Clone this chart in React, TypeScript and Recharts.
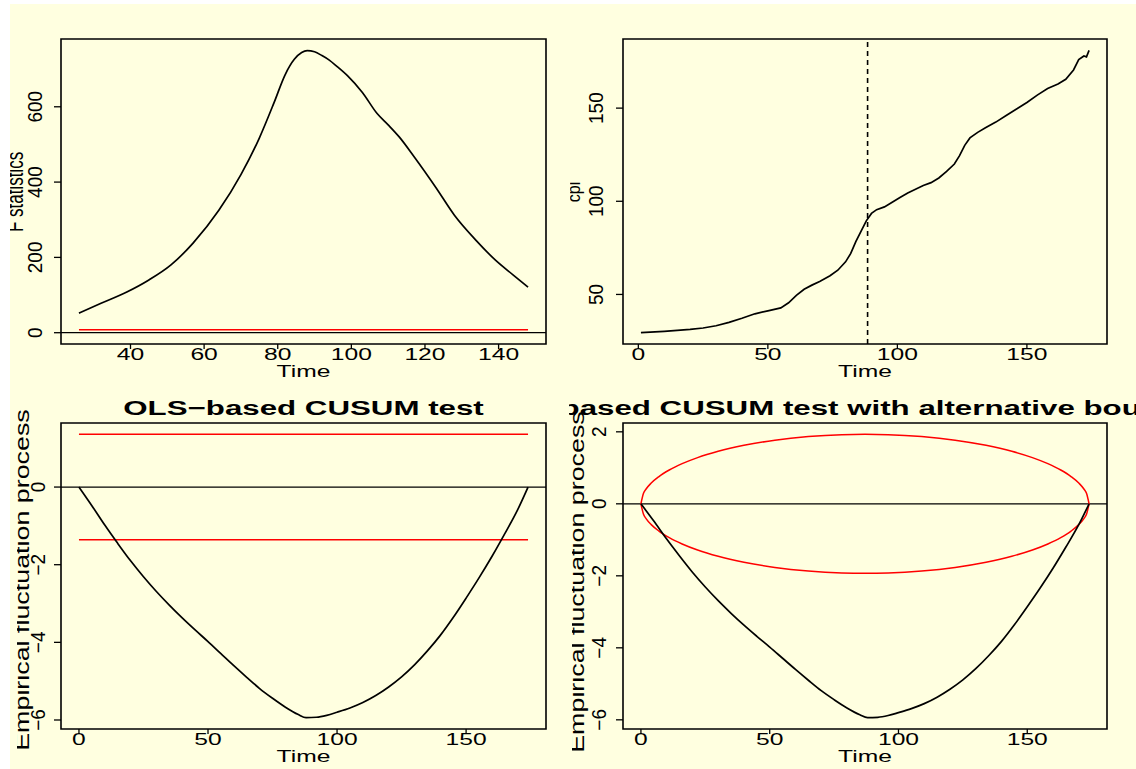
import React from 'react';
import { LineChart, Line, XAxis, YAxis, ReferenceLine, ReferenceArea } from 'recharts';

// ---------- data ----------
// Panel 1: F statistics
const fTime = [26, 32, 39, 45, 51, 57, 64, 70, 75, 79, 82, 84.5, 86.5, 88, 90, 92, 94, 96, 99, 103, 107, 110, 113, 117, 123, 128, 134, 139, 144, 148];
const fStat = [52, 78, 108, 140, 180, 238, 325, 420, 517, 611, 685, 726, 744, 749, 746, 736, 724, 708, 682, 638, 582, 552, 520, 468, 385, 312, 244, 194, 153, 121];
const fBoundTime = [26, 148];
const fBoundValue = [8, 8];
const fTicksX = [40, 60, 80, 100, 120, 140];
const fTicksY = [0, 200, 400, 600];

// Panel 2: cpi
const cpiTime = [1, 10, 20, 25, 30, 35, 40, 45, 50, 55, 58, 61, 64, 67, 70, 74, 77, 80, 82, 84, 86, 88, 90, 92, 95, 98, 101, 104, 107, 110, 113, 116, 119, 122, 124, 126, 128, 131, 134, 138, 142, 146, 150, 154, 158, 162, 165, 168, 170, 172, 173, 174];
const cpiValue = [29.5, 30.2, 31.2, 32.0, 33.2, 35.0, 37.2, 39.6, 41.2, 42.8, 45.5, 49.5, 52.8, 55.0, 57.0, 60.0, 63.0, 67.5, 72.0, 78.5, 84.0, 89.5, 93.5, 95.5, 97.0, 99.5, 102.0, 104.5, 106.5, 108.5, 110.0, 112.5, 116.0, 120.0, 124.5, 130.0, 134.0, 137.0, 139.5, 142.5, 146.0, 149.5, 153.0, 157.0, 160.5, 163.0, 165.5, 170.5, 176.0, 178.0, 177.5, 181.0];
const cpiBreak = 88.5;
const cpiTicksX = [0, 50, 100, 150];
const cpiTicksY = [50, 100, 150];

// Panels 3 & 4: empirical fluctuation process (OLS-CUSUM)
const cusumTime = [0, 5, 10, 15, 20, 25, 30, 35, 40, 45, 50, 55, 60, 65, 70, 75, 80, 85, 88, 92, 96, 100, 105, 110, 115, 120, 125, 130, 135, 140, 145, 150, 155, 160, 165, 170, 174];
const cusumValue = [0, -0.48, -0.98, -1.45, -1.9, -2.31, -2.69, -3.04, -3.37, -3.68, -3.98, -4.29, -4.6, -4.9, -5.19, -5.44, -5.67, -5.86, -5.94, -5.93, -5.88, -5.8, -5.69, -5.55, -5.37, -5.15, -4.89, -4.58, -4.22, -3.82, -3.36, -2.86, -2.34, -1.79, -1.2, -0.58, 0];
const olsBoundTime = [0, 174];
const olsBoundUpper = [1.358, 1.358];
const olsBoundLower = [-1.358, -1.358];
const altBoundTime = [0, 1, 2, 4, 7, 11, 16, 22, 30, 40, 52, 65, 78, 87, 96, 109, 122, 134, 144, 152, 158, 163, 167, 170, 172, 173, 174];
const altBoundUpper = [0, 0.292, 0.411, 0.578, 0.758, 0.939, 1.115, 1.283, 1.458, 1.624, 1.767, 1.867, 1.92, 1.93, 1.92, 1.867, 1.767, 1.624, 1.458, 1.283, 1.115, 0.939, 0.758, 0.578, 0.411, 0.292, 0];
const cusumTicksX = [0, 50, 100, 150];
const olsTicksY = [-6, -4, -2, 0];
const altTicksY = [-6, -4, -2, 0, 2];

const rows = (ts: number[], vs: number[]) => ts.map((t, i) => ({ t, v: vs[i] }));
const fRows = rows(fTime, fStat);
const fBoundRows = rows(fBoundTime, fBoundValue);
const cpiRows = rows(cpiTime, cpiValue);
const cusumRows = rows(cusumTime, cusumValue);
const olsUpRows = rows(olsBoundTime, olsBoundUpper);
const olsLoRows = rows(olsBoundTime, olsBoundLower);
const altUpRows = rows(altBoundTime, altBoundUpper);
const altLoRows = rows(altBoundTime, altBoundUpper.map((v) => -v));

// ---------- styling ----------
const FONT = '"Liberation Sans", Arial, Helvetica, sans-serif';
const SX = 1.45;
const fmt = (v: number) => String(v).replace('-', '\u2212');

const XTick = (props: any) => {
  const { x, y, payload } = props;
  return (
    <text transform={`translate(${x},${y + 11}) scale(${SX},1)`} textAnchor="middle" fontSize={17} fontFamily={FONT} fill="#000">
      {fmt(payload.value)}
    </text>
  );
};

const makeYTick = (gap: number) => (props: any) => {
  const { x, y, payload } = props;
  return (
    <text transform={`translate(${x - gap},${y}) rotate(-90) scale(1,1.05)`} textAnchor="middle" fontSize={19} fontFamily={FONT} fill="#000">
      {fmt(payload.value)}
    </text>
  );
};

const XTitle = (props: any) => {
  const { px, py } = props;
  return (
    <text transform={`translate(${px},${py}) scale(${SX},1)`} textAnchor="middle" fontSize={17} fontFamily={FONT} fill="#000">
      Time
    </text>
  );
};

const YTitle = (props: any) => {
  const { id, text, size, thick, len, bx, cy, clipX, title, tx, ty } = props;
  return (
    <g>
      <defs>
        <clipPath id={id}>
          <rect x={clipX} y={-1000} width={3000} height={3000} />
        </clipPath>
      </defs>
      <g clipPath={`url(#${id})`}>
        <text transform={`translate(${bx},${cy}) rotate(-90) scale(${len},${thick})`} textAnchor="middle" fontSize={size} fontFamily={FONT} fill="#000">
          {text}
        </text>
      </g>
      {title ? (
        <text transform={`translate(${tx},${ty}) scale(1.49,1)`} textAnchor="middle" fontSize={21} fontWeight="bold" fontFamily={FONT} fill="#000">
          {title}
        </text>
      ) : null}
    </g>
  );
};

type PanelProps = {
  id: string;
  clip: number[]; // page left, top, right, bottom
  box: number[]; // page left, top, right, bottom
  xDomain: number[];
  yDomain: number[];
  xTicks: number[];
  yTicks: number[];
  tickGap: number;
  yLabel: { text: string; size: number; thick: number; len: number; baseX: number; centerY: number; clipX: number };
  title?: string;
  children?: React.ReactNode;
};

function Panel(p: PanelProps) {
  const [cl, ct, cr, cb] = p.clip;
  const [bl, bt, br, bb] = p.box;
  const W = cr - cl;
  const H = cb - ct;
  const yl = p.yLabel;
  return (
    <div style={{ position: 'absolute', left: cl, top: ct, width: W, height: H, overflow: 'hidden' }}>
      <LineChart width={W} height={H} margin={{ top: bt - ct, right: cr - br, bottom: 0, left: 0 }}>
        <XAxis
          type="number"
          dataKey="t"
          domain={p.xDomain}
          ticks={p.xTicks}
          interval={0}
          allowDataOverflow
          height={cb - bb}
          tickSize={5}
          tickMargin={0}
          axisLine={false}
          tickLine={{ stroke: '#000', strokeWidth: 1.3 }}
          tick={XTick}
          label={<XTitle px={(bl + br) / 2 - cl} py={bb + 33 - ct} />}
        />
        <YAxis
          type="number"
          dataKey="v"
          domain={p.yDomain}
          ticks={p.yTicks}
          interval={0}
          allowDataOverflow
          width={bl - cl}
          tickSize={7}
          tickMargin={0}
          axisLine={false}
          tickLine={{ stroke: '#000', strokeWidth: 1.3 }}
          tick={makeYTick(p.tickGap)}
          label={
            <YTitle
              id={p.id + '-yl'}
              text={yl.text}
              size={yl.size}
              thick={yl.thick}
              len={yl.len}
              bx={yl.baseX - cl}
              cy={yl.centerY - ct}
              clipX={yl.clipX - cl}
              title={p.title}
              tx={(bl + br) / 2 - cl}
              ty={bt - 8 - ct}
            />
          }
        />
        {p.children}
        <ReferenceArea
          x1={p.xDomain[0]}
          x2={p.xDomain[1]}
          y1={p.yDomain[0]}
          y2={p.yDomain[1]}
          fill="none"
          fillOpacity={0}
          stroke="#000"
          strokeWidth={1.6}
          ifOverflow="visible"
        />
      </LineChart>
    </div>
  );
}

export default function App() {
  return (
    <div style={{ position: 'absolute', left: 0, top: 0, width: 1136, height: 769, background: '#ffffff', overflow: 'hidden', fontFamily: FONT }}>
      <div style={{ position: 'absolute', left: 10, top: 4, width: 1126, height: 765, background: '#FFFFE0' }} />

      <Panel
        id="p1"
        clip={[10, 4, 573, 386]}
        box={[61, 39, 546, 344]}
        xDomain={[21.12, 152.88]}
        yDomain={[-30, 780]}
        xTicks={fTicksX}
        yTicks={fTicksY}
        tickGap={12}
        yLabel={{ text: 'F statistics', size: 17, thick: 1.4, len: 1, baseX: 23, centerY: 192, clipX: 10 }}
      >
        {[
          <ReferenceLine key="z" y={0} stroke="#000" strokeWidth={1.2} />,
          <Line key="b" data={fBoundRows} dataKey="v" type="linear" stroke="#ff0000" strokeWidth={1.5} dot={false} isAnimationActive={false} />,
          <Line key="f" data={fRows} dataKey="v" type="monotone" stroke="#000" strokeWidth={1.7} dot={false} isAnimationActive={false} />,
        ]}
      </Panel>

      <Panel
        id="p2"
        clip={[568, 4, 1136, 386]}
        box={[623, 39, 1107, 344]}
        xDomain={[-5.92, 180.92]}
        yDomain={[23.4, 187.1]}
        xTicks={cpiTicksX}
        yTicks={cpiTicksY}
        tickGap={13}
        yLabel={{ text: 'cpi', size: 16, thick: 1.2, len: 1, baseX: 580, centerY: 192, clipX: 570 }}
      >
        {[
          <ReferenceLine key="br" x={cpiBreak} stroke="#000" strokeWidth={1.6} strokeDasharray="5 4" />,
          <Line key="c" data={cpiRows} dataKey="v" type="linear" stroke="#000" strokeWidth={1.7} dot={false} isAnimationActive={false} />,
        ]}
      </Panel>

      <Panel
        id="p3"
        clip={[10, 386, 573, 769]}
        box={[61, 423, 546, 729]}
        xDomain={[-6.96, 180.96]}
        yDomain={[-6.232, 1.65]}
        xTicks={cusumTicksX}
        yTicks={olsTicksY}
        tickGap={9}
        yLabel={{ text: 'Empirical fluctuation process', size: 17, thick: 1.2, len: 1.58, baseX: 29, centerY: 580, clipX: 17 }}
        title={'OLS\u2212based CUSUM test'}
      >
        {[
          <ReferenceLine key="z" y={0} stroke="#000" strokeWidth={1.2} />,
          <Line key="u" data={olsUpRows} dataKey="v" type="linear" stroke="#ff0000" strokeWidth={1.5} dot={false} isAnimationActive={false} />,
          <Line key="l" data={olsLoRows} dataKey="v" type="linear" stroke="#ff0000" strokeWidth={1.5} dot={false} isAnimationActive={false} />,
          <Line key="p" data={cusumRows} dataKey="v" type="monotone" stroke="#000" strokeWidth={1.7} dot={false} isAnimationActive={false} />,
        ]}
      </Panel>

      <Panel
        id="p4"
        clip={[569, 386, 1136, 769]}
        box={[623, 423, 1107, 729]}
        xDomain={[-6.96, 180.96]}
        yDomain={[-6.255, 2.245]}
        xTicks={cusumTicksX}
        yTicks={altTicksY}
        tickGap={10}
        yLabel={{ text: 'Empirical fluctuation process', size: 17, thick: 1.2, len: 1.58, baseX: 584, centerY: 582, clipX: 572 }}
        title={'OLS\u2212based CUSUM test with alternative boundaries'}
      >
        {[
          <ReferenceLine key="z" y={0} stroke="#000" strokeWidth={1.2} />,
          <Line key="u" data={altUpRows} dataKey="v" type="monotone" stroke="#ff0000" strokeWidth={1.5} dot={false} isAnimationActive={false} />,
          <Line key="l" data={altLoRows} dataKey="v" type="monotone" stroke="#ff0000" strokeWidth={1.5} dot={false} isAnimationActive={false} />,
          <Line key="p" data={cusumRows} dataKey="v" type="monotone" stroke="#000" strokeWidth={1.7} dot={false} isAnimationActive={false} />,
        ]}
      </Panel>
    </div>
  );
}
